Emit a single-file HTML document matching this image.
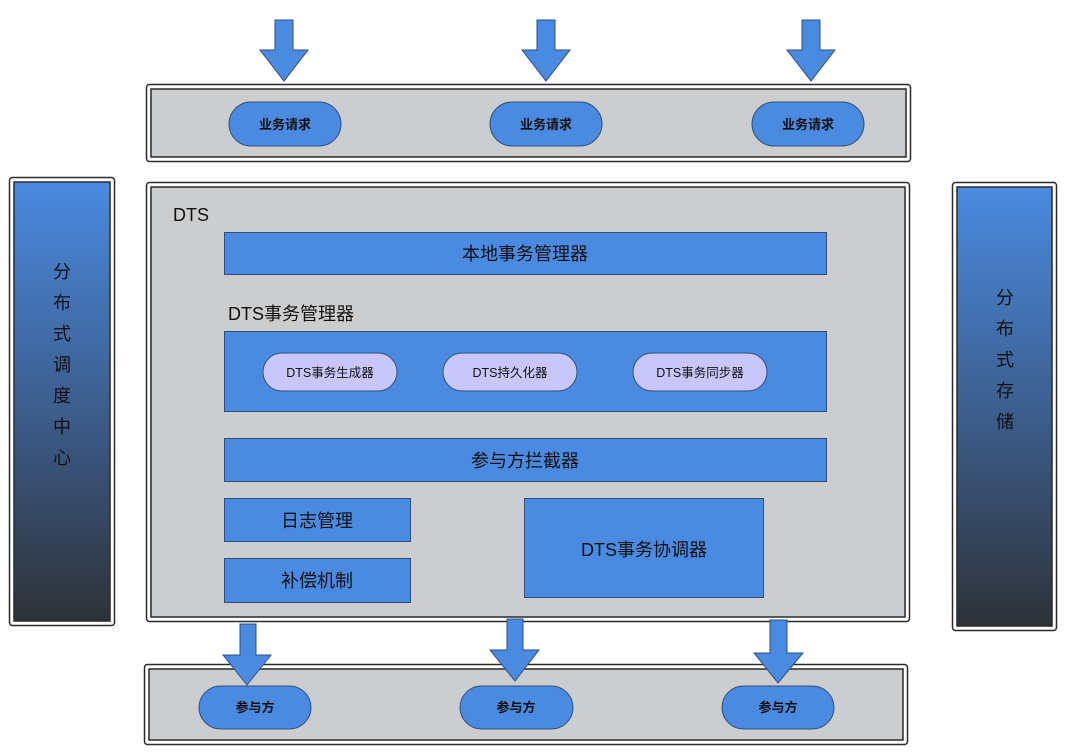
<!DOCTYPE html>
<html><head><meta charset="utf-8"><style>
html,body{margin:0;padding:0;background:#fff;width:1080px;height:754px;overflow:hidden}
text{font-family:"Liberation Sans","Noto Sans CJK SC",sans-serif;fill:#111}
</style></head><body>
<svg width="1080" height="754" viewBox="0 0 1080 754" xmlns="http://www.w3.org/2000/svg">
<defs>
<linearGradient id="g" x1="0" y1="0" x2="0" y2="1">
<stop offset="0" stop-color="#4a8ae0"/><stop offset="0.5" stop-color="#3d5f90"/><stop offset="1" stop-color="#2e3238"/>
</linearGradient>
</defs>
<g stroke="#2a2a2a" stroke-width="1.5">
<!-- top band -->
<rect x="146.5" y="84.5" width="764" height="77" rx="3" fill="#fff"/>
<rect x="151" y="89" width="755" height="68" fill="#cccdcf"/>
<!-- main -->
<rect x="146.5" y="182.5" width="763" height="439" rx="3" fill="#fff"/>
<rect x="151" y="187" width="754" height="430" fill="#cccdcf"/>
<!-- bottom band -->
<rect x="144.5" y="664.5" width="763" height="80" rx="3" fill="#fff"/>
<rect x="149" y="669" width="754" height="71" fill="#cccdcf"/>
<!-- left -->
<rect x="9.5" y="177.5" width="105" height="448" rx="3" fill="#fff"/>
<rect x="14" y="182" width="96" height="439" fill="url(#g)"/>
<!-- right -->
<rect x="952.5" y="182.5" width="104" height="448" rx="3" fill="#fff"/>
<rect x="957" y="187" width="95" height="439" fill="url(#g)"/>
</g>
<g fill="#4a8ae0" stroke="#2f4f7a" stroke-width="1">
<!-- top arrows -->
<polygon points="275,20 293,20 293,50 308,50 284,81 260,50 275,50"/>
<polygon points="537,20 555,20 555,50 570,50 546,81 522,50 537,50"/>
<polygon points="802,20 820,20 820,50 835,50 811,81 787,50 802,50"/>
<!-- bottom arrows -->
<polygon points="240,624 256,624 256,655 271,655 247,685 223,655 240,655"/>
<polygon points="507,619 523,619 523,650 539,650 515,681 490,650 507,650"/>
<polygon points="770,620 787,620 787,653 803,653 778,683 754,653 770,653"/>
<!-- pills top -->
<rect x="229" y="102" width="112" height="44" rx="22"/>
<rect x="490" y="102" width="112" height="44" rx="22"/>
<rect x="752" y="102" width="112" height="44" rx="22"/>
<!-- pills bottom -->
<rect x="199" y="686" width="112" height="43" rx="21.5"/>
<rect x="460" y="686" width="113" height="43" rx="21.5"/>
<rect x="722" y="686" width="112" height="43" rx="21.5"/>
<!-- inner boxes -->
<rect x="224.5" y="232.5" width="602" height="42"/>
<rect x="224.5" y="331.5" width="602" height="80"/>
<rect x="224.5" y="438.5" width="602" height="43"/>
<rect x="224.5" y="498.5" width="186" height="43"/>
<rect x="224.5" y="558.5" width="186" height="44"/>
<rect x="524.5" y="498.5" width="239" height="99"/>
</g>
<g fill="#c8c6fa" stroke="#2f4f7a" stroke-width="1">
<rect x="263" y="353" width="134" height="38" rx="19"/>
<rect x="443" y="353" width="134" height="38" rx="19"/>
<rect x="633" y="353" width="134" height="38" rx="19"/>
</g>
<g font-size="13" font-weight="bold" text-anchor="middle">
<text x="285" y="129">业务请求</text>
<text x="546" y="129">业务请求</text>
<text x="808" y="129">业务请求</text>
<text x="255" y="712">参与方</text>
<text x="516" y="712">参与方</text>
<text x="778" y="712">参与方</text>
</g>
<g font-size="12.5" text-anchor="middle">
<text x="330" y="377">DTS事务生成器</text>
<text x="510" y="377">DTS持久化器</text>
<text x="700" y="377">DTS事务同步器</text>
</g>
<text x="173" y="221" font-size="18">DTS</text>
<text x="228" y="320" font-size="18">DTS事务管理器</text>
<g font-size="18" text-anchor="middle">
<text x="525" y="260">本地事务管理器</text>
<text x="525" y="467">参与方拦截器</text>
<text x="317" y="527">日志管理</text>
<text x="317" y="587">补偿机制</text>
<text x="644" y="556">DTS事务协调器</text>
</g>
<g font-size="18" text-anchor="middle">
<text x="62" y="278">分</text><text x="62" y="309">布</text><text x="62" y="340">式</text><text x="62" y="371">调</text><text x="62" y="402">度</text><text x="62" y="433">中</text><text x="62" y="464">心</text>
<text x="1005" y="304">分</text><text x="1005" y="335">布</text><text x="1005" y="366">式</text><text x="1005" y="397">存</text><text x="1005" y="428">储</text>
</g>
</svg>
</body></html>
